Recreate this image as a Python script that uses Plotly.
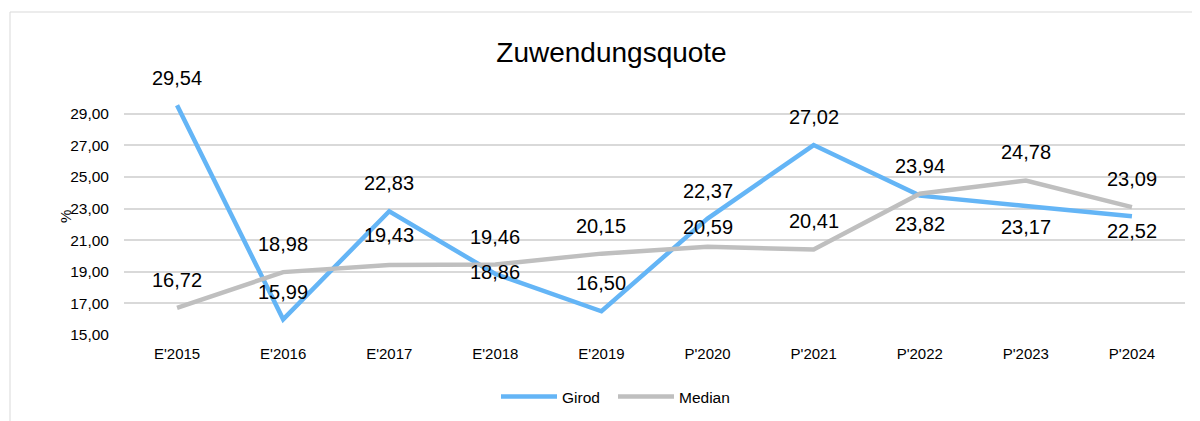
import plotly.graph_objects as go

categories = ["E'2015", "E'2016", "E'2017", "E'2018", "E'2019",
              "P'2020", "P'2021", "P'2022", "P'2023", "P'2024"]
girod = [29.54, 15.99, 22.83, 18.86, 16.50, 22.37, 27.02, 23.82, 23.17, 22.52]
median = [16.72, 18.98, 19.43, 19.46, 20.15, 20.59, 20.41, 23.94, 24.78, 23.09]
y_ticks = [15, 17, 19, 21, 23, 25, 27, 29]

# label offsets in px (positive = above the point)
girod_label_shift = [27, 27, 28, 2, 28, 28, 28, -28, -21, -15]
median_label_shift = [28, 28, 30, 28, 28, 20, 29, 28, 28, 28]

FONT = "Liberation Sans, Arial, sans-serif"
BLUE = "#64B5F6"
GRAY = "#BFBFBF"

# page body has an 8px margin -> figure is 8px smaller and shifted
W, H = 1192, 413
L, R, T, B = 116, 15, 90, 86
PW, PH = W - L - R, H - T - B

def fmt(v):
    return f"{v:.2f}".replace(".", ",")

fig = go.Figure()
fig.add_trace(go.Scatter(x=categories, y=girod, name="Girod", mode="lines",
                         line=dict(color=BLUE, width=4.5)))
fig.add_trace(go.Scatter(x=categories, y=median, name="Median", mode="lines",
                         line=dict(color=GRAY, width=4.5)))

annotations = []
for series, shifts in ((girod, girod_label_shift), (median, median_label_shift)):
    for c, v, s in zip(categories, series, shifts):
        annotations.append(dict(x=c, y=v, xref="x", yref="y", text=fmt(v),
                                showarrow=False, yshift=s,
                                font=dict(family=FONT, size=20, color="#000000")))

annotations.append(dict(x=-69 / PW, y=0.5, xref="paper", yref="paper",
                        text="%", textangle=-90, showarrow=False,
                        font=dict(family=FONT, size=15, color="#000000")))

fig.update_layout(
    width=W, height=H,
    margin=dict(l=L, r=R, t=T, b=B, autoexpand=False),
    paper_bgcolor="white", plot_bgcolor="white",
    separators=",.",
    font=dict(family=FONT, size=15, color="#000000"),
    title=dict(text="Zuwendungsquote", x=603.5 / W, xanchor="center",
               xref="container", yref="container", y=1 - 44 / H, yanchor="middle",
               font=dict(family=FONT, size=28, color="#000000")),
    xaxis=dict(type="category", range=[-0.5, len(categories) - 0.5],
               showgrid=False, zeroline=False, showline=False,
               ticks="", tickfont=dict(family=FONT, size=15, color="#000000"),
               ticklabelstandoff=8),
    yaxis=dict(range=[15, 30], tickvals=y_ticks, tickformat=".2f",
               showgrid=True, gridcolor="#D9D9D9", gridwidth=1.5,
               zeroline=False, showline=False, ticks="",
               tickfont=dict(family=FONT, size=15.5, color="#000000"),
               ticklabelstandoff=14),
    showlegend=True,
    legend=dict(orientation="h", x=(605 - L) / PW, xanchor="center",
                y=-62 / PH, yanchor="middle",
                font=dict(family=FONT, size=15.5, color="#000000"),
                itemwidth=56, entrywidth=46, entrywidthmode="pixels"),
    annotations=annotations,
    shapes=[dict(type="rect", xref="paper", yref="paper",
                 x0=-114 / PW, x1=(W + 10 - L) / PW,
                 y0=-(B + 10) / PH, y1=(PH + T - 4) / PH,
                 line=dict(color="#D9D9D9", width=1), fillcolor="rgba(0,0,0,0)",
                 layer="below")],
)

fig.write_html("out.html")
